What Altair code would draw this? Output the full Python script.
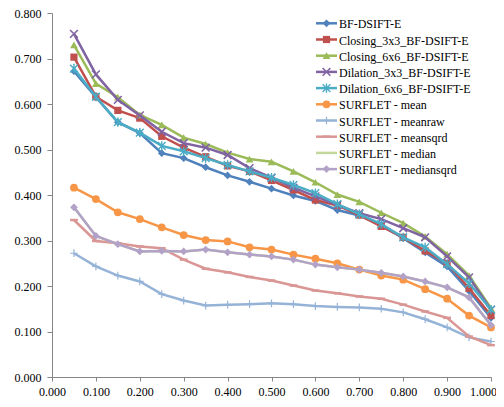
import altair as alt
import pandas as pd

x_vals = [0.05, 0.10, 0.15, 0.20, 0.25, 0.30, 0.35, 0.40, 0.45, 0.50,
          0.55, 0.60, 0.65, 0.70, 0.75, 0.80, 0.85, 0.90, 0.95, 1.00]

names = ["BF-DSIFT-E", "Closing_3x3_BF-DSIFT-E", "Closing_6x6_BF-DSIFT-E",
         "Dilation_3x3_BF-DSIFT-E", "Dilation_6x6_BF-DSIFT-E", "SURFLET - mean",
         "SURFLET - meanraw", "SURFLET - meansqrd", "SURFLET - median",
         "SURFLET - mediansqrd"]

bf = [0.672, 0.615, 0.560, 0.536, 0.492, 0.481, 0.461, 0.443, 0.429, 0.414,
      0.399, 0.387, 0.367, 0.355, 0.333, 0.305, 0.274, 0.243, 0.189, 0.130]
closing3 = [0.703, 0.616, 0.586, 0.569, 0.529, 0.504, 0.484, 0.464, 0.452, 0.432,
            0.411, 0.389, 0.377, 0.356, 0.331, 0.307, 0.277, 0.250, 0.195, 0.135]
closing6 = [0.730, 0.645, 0.615, 0.576, 0.554, 0.526, 0.512, 0.493, 0.479, 0.473,
            0.452, 0.428, 0.401, 0.385, 0.361, 0.338, 0.309, 0.270, 0.223, 0.151]
dilation3 = [0.754, 0.665, 0.609, 0.575, 0.539, 0.514, 0.504, 0.488, 0.459, 0.438,
             0.416, 0.397, 0.378, 0.360, 0.347, 0.327, 0.307, 0.265, 0.219, 0.148]
dilation6 = [0.678, 0.616, 0.560, 0.537, 0.508, 0.496, 0.481, 0.466, 0.452, 0.438,
             0.422, 0.404, 0.380, 0.358, 0.336, 0.307, 0.285, 0.248, 0.206, 0.148]
s_mean = [0.416, 0.391, 0.362, 0.347, 0.329, 0.312, 0.301, 0.298, 0.285, 0.280,
          0.269, 0.260, 0.250, 0.236, 0.223, 0.214, 0.193, 0.172, 0.135, 0.109]
s_meanraw = [0.272, 0.243, 0.223, 0.210, 0.182, 0.168, 0.157, 0.159, 0.160, 0.162,
             0.160, 0.156, 0.154, 0.153, 0.150, 0.142, 0.127, 0.109, 0.087, 0.078]
s_meansqrd = [0.345, 0.299, 0.294, 0.287, 0.283, 0.258, 0.238, 0.230, 0.220, 0.212,
              0.201, 0.190, 0.184, 0.177, 0.172, 0.159, 0.144, 0.130, 0.089, 0.070]
s_median = [0.373, 0.310, 0.292, 0.276, 0.277, 0.276, 0.280, 0.274, 0.269, 0.265,
            0.258, 0.247, 0.241, 0.236, 0.229, 0.221, 0.210, 0.197, 0.175, 0.114]
s_mediansqrd = [0.373, 0.310, 0.292, 0.276, 0.277, 0.276, 0.280, 0.274, 0.269, 0.265,
                0.258, 0.247, 0.241, 0.236, 0.229, 0.221, 0.210, 0.197, 0.175, 0.114]

x_ticks = [0.0, 0.1, 0.2, 0.3, 0.4, 0.5, 0.6, 0.7, 0.8, 0.9, 1.0]
y_ticks = [0.0, 0.1, 0.2, 0.3, 0.4, 0.5, 0.6, 0.7, 0.8]

series = [bf, closing3, closing6, dilation3, dilation6, s_mean, s_meanraw,
          s_meansqrd, s_median, s_mediansqrd]
colors = ["#4F81BD", "#C0504D", "#9BBB59", "#8064A2", "#4BACC6", "#F79646",
          "#95B3D7", "#D99694", "#C3D69B", "#B3A2C7"]
X_PATH = "M-1,-1L1,1M-1,1L1,-1"
STAR_PATH = "M-1,-1L1,1M-1,1L1,-1M0,-1.2L0,1.2"
PLUS_PATH = "M-1,0L1,0M0,-1L0,1"
DASH_PATH = "M-1,0L1,0"
shapes = ["diamond", "square", "triangle-up", X_PATH, STAR_PATH, "circle",
          PLUS_PATH, DASH_PATH, None, "diamond"]
filled = [True, True, True, False, False, True, False, False, False, True]
sizes = [60, 52, 60, 60, 60, 60, 60, 60, 0, 60]
stroke_w = [1, 1, 1, 1.6, 1.4, 1, 1.2, 2.5, 0, 1]

FONT = "Liberation Serif, Times New Roman, serif"
xscale = alt.Scale(domain=[0, 1], nice=False, zero=False)
yscale = alt.Scale(domain=[0, 0.8], nice=False)
xaxis = alt.Axis(values=x_ticks, format=".3f", title=None, grid=False,
                 tickSize=4, labelPadding=14, labelBaseline="alphabetic",
                 labelFlush=False,
                 labelOffset={"condition": {"test": "datum.value >= 1", "value": -8},
                              "value": 0})
yaxis = alt.Axis(values=y_ticks, format=".3f", title=None, grid=False,
                 tickSize=5, labelPadding=6, labelFlush=False)

layers = []
for i, vals in enumerate(series):
    df = pd.DataFrame({"x": x_vals, "y": vals})
    base = alt.Chart(df).encode(
        x=alt.X("x:Q", scale=xscale, axis=xaxis),
        y=alt.Y("y:Q", scale=yscale, axis=yaxis),
    )
    layers.append(base.mark_line(color=colors[i], strokeWidth=2.5))
    if shapes[i] is not None:
        layers.append(base.mark_point(shape=shapes[i], filled=filled[i],
                                      color=colors[i], size=sizes[i],
                                      strokeWidth=stroke_w[i], opacity=1))

# legend (manual, Excel style)
for i, name in enumerate(names):
    ry = 10.3 + i * 16.2
    ld = pd.DataFrame({"name": [name]})
    lc = alt.Chart(ld)
    layers.append(lc.mark_rule(color=colors[i], strokeWidth=2.5).encode(
        x=alt.value(264), x2=alt.value(285), y=alt.value(ry)))
    if shapes[i] is not None:
        layers.append(lc.mark_point(shape=shapes[i], filled=filled[i],
                                    color=colors[i], size=sizes[i],
                                    strokeWidth=stroke_w[i], opacity=1).encode(
            x=alt.value(274.5), y=alt.value(ry)))
    layers.append(lc.mark_text(align="left", baseline="middle", font=FONT,
                               fontSize=12, color="black").encode(
        x=alt.value(287), y=alt.value(ry + 1), text="name:N"))

chart = alt.layer(*layers).properties(
    width=439, height=364,
    padding={"left": 44, "top": 5, "right": 5, "bottom": 20},
    autosize=alt.AutoSizeParams(type="none"),
    background="white",
).configure_view(stroke=None).configure_axis(
    domainColor="#868686", tickColor="#868686", domainWidth=1,
    labelFont=FONT, labelFontSize=12, labelColor="black",
)

chart.save("out.html", embed_options={"renderer": "svg", "actions": False})
